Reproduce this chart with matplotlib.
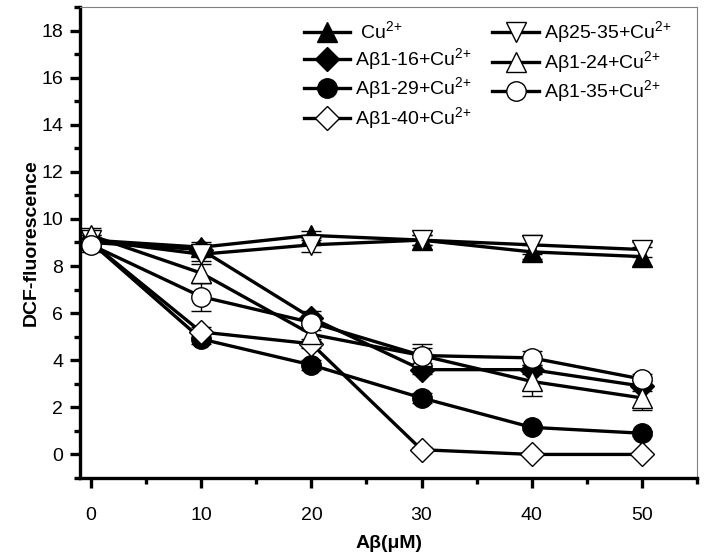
import numpy as np
import matplotlib.pyplot as plt
from matplotlib.lines import Line2D
from matplotlib.ticker import MultipleLocator

plt.rcParams['font.family'] = ['Liberation Sans', 'DejaVu Sans']
plt.rcParams['mathtext.fontset'] = 'custom'
plt.rcParams['mathtext.rm'] = 'Liberation Sans'

# concentrations of Abeta (uM)
conc = [0, 10, 20, 30, 40, 50]

# DCF fluorescence, with error bars
cu = [9.1, 8.8, 9.3, 9.1, 8.6, 8.4]
cu_err = [0.2, 0.2, 0.2, 0.2, 0.3, 0.4]
ab25_35 = [9.1, 8.5, 8.9, 9.1, 8.9, 8.7]
ab25_35_err = [0.2, 0.3, 0.3, 0.2, 0.4, 0.3]
ab1_16 = [9.0, 8.7, 5.8, 3.6, 3.6, 2.9]
ab1_16_err = [0.2, 0.2, 0.3, 0.2, 0.2, 0.2]
ab1_24 = [9.3, 7.7, 5.1, 4.2, 3.1, 2.4]
ab1_24_err = [0.3, 0.4, 0.3, 0.3, 0.6, 0.5]
ab1_29 = [9.0, 4.9, 3.8, 2.4, 1.15, 0.9]
ab1_29_err = [0.2, 0.2, 0.2, 0.2, 0.1, 0.1]
ab1_35 = [8.9, 6.7, 5.6, 4.2, 4.1, 3.2]
ab1_35_err = [0.3, 0.6, 0.3, 0.5, 0.3, 0.2]
ab1_40 = [9.0, 5.2, 4.7, 0.2, 0.0, 0.0]
ab1_40_err = [0.2, 0.2, 0.2, 0.1, 0.0, 0.0]

sup = r"$^{\text{2+}}$"
# (label, values, errors, marker, filled) in legend order
series = [
    (" Cu" + sup, cu, cu_err, "^", True),
    ("A\u03b21-16+Cu" + sup, ab1_16, ab1_16_err, "D", True),
    ("A\u03b21-29+Cu" + sup, ab1_29, ab1_29_err, "o", True),
    ("A\u03b21-40+Cu" + sup, ab1_40, ab1_40_err, "D", False),
    ("A\u03b225-35+Cu" + sup, ab25_35, ab25_35_err, "v", False),
    ("A\u03b21-24+Cu" + sup, ab1_24, ab1_24_err, "^", False),
    ("A\u03b21-35+Cu" + sup, ab1_35, ab1_35_err, "o", False),
]

fig = plt.figure(figsize=(7.05, 5.58), dpi=100)
ax = fig.add_axes([0.1135, 0.1434, 0.8752, 0.8441])

handles = []
for label, ys, err, mk, filled in series:
    ms = 12 if mk == "D" else 14
    style = dict(color="black", linewidth=2.4, marker=mk, markersize=ms,
                 markerfacecolor="black" if filled else "white",
                 markeredgecolor="black", markeredgewidth=1.0)
    ax.errorbar(conc, ys, yerr=err, ecolor="black", elinewidth=1.0,
                capsize=7, capthick=1.0, **style)
    if not filled:
        ax.plot(conc, ys, linestyle="none", marker=".", markersize=1.5, color="black")
    handles.append(Line2D([], [], label=label, **style))

ax.set_xlim(-1, 55)
ax.set_ylim(-1, 19)
ax.xaxis.set_major_locator(MultipleLocator(10))
ax.xaxis.set_minor_locator(MultipleLocator(5))
ax.yaxis.set_major_locator(MultipleLocator(2))
ax.yaxis.set_minor_locator(MultipleLocator(1))
ax.tick_params(which="major", direction="out", length=7, width=2.4, labelsize=14, pad=5)
ax.tick_params(axis="x", which="major", pad=14)
ax.tick_params(which="minor", direction="out", length=4, width=2.4)

for side in ["left", "bottom"]:
    ax.spines[side].set_linewidth(2.4)
for side in ["top", "right"]:
    ax.spines[side].set_linewidth(0.8)
    ax.spines[side].set_color("gray")

ax.set_xlabel("A\u03b2(\u03bcM)", fontsize=14, fontweight="bold", labelpad=8)
ax.set_ylabel("DCF-fluorescence", fontsize=14, fontweight="bold", labelpad=1)

ax.legend(handles=handles, ncol=2, frameon=False, loc="upper left",
          bbox_to_anchor=(0.35, 0.99), fontsize=14, handlelength=2.4,
          handletextpad=0.25, columnspacing=1.05, labelspacing=0.15,
          borderaxespad=0)

fig.savefig("out.png", dpi=100)
